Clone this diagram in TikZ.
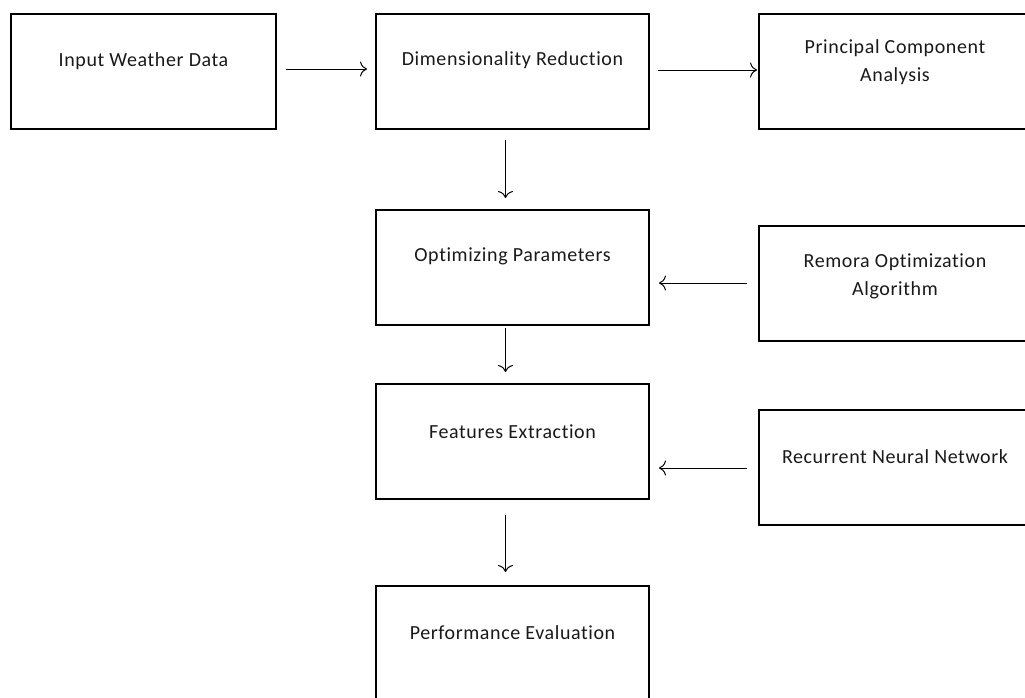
\documentclass[tikz,border=0pt]{standalone}
\usepackage{fontspec}
\setmainfont{Carlito}[Ligatures=NoCommon,LetterSpace=3]
\usetikzlibrary{arrows.meta}
\begin{document}
\begin{tikzpicture}[x=1pt,y=-1pt,
  box/.style={draw=black,line width=2pt,minimum width=#1,minimum height=115pt,inner sep=0pt,anchor=north west},
  box/.default=265pt,
  txt/.style={font=\fontsize{20}{28}\selectfont,text=black!90,align=center},
  arr/.style={line width=1pt,-{To[length=7pt,width=15pt]}}]
\useasboundingbox (0,0) rectangle (1025,697);
\clip (0,0) rectangle (1025,697);
\node[box=265pt] (in) at (10,13) {};
\node[box=273pt] (dr) at (375,13) {};
\node[box=272pt] (pca) at (758,13) {};
\node[box=273pt] (op) at (375,209) {};
\node[box=272pt] (ro) at (758,225) {};
\node[box=273pt] (fe) at (375,383) {};
\node[box=272pt] (rnn) at (758,409) {};
\node[box=273pt,minimum height=125pt] (pe) at (375,585) {};
\node[txt] (tin) at ([yshift=10]in.center) {Input Weather Data};
\node[txt] (tdr) at ([yshift=11]dr.center) {Dimensionality Reduction};
\node[txt] (tpca) at ([yshift=9]pca.center) {Principal Component\\Analysis};
\node[txt] (top) at ([yshift=11]op.center) {Optimizing Parameters};
\node[txt] (tro) at ([yshift=7]ro.center) {Remora Optimization\\Algorithm};
\node[txt] (tfe) at ([yshift=10]fe.center) {Features Extraction};
\node[txt] (trnn) at ([yshift=11]rnn.center) {Recurrent Neural Network};
\node[txt] (tpe) at ([yshift=16]pe.center) {Performance Evaluation};
\draw[arr,shorten <=9pt,shorten >=8pt] ([yshift=2.5]in.east) -- ([yshift=2.5]dr.west);
\draw[arr,shorten <=8pt,shorten >=1pt] ([yshift=1.5]dr.east) -- ([yshift=1.5]pca.west);
\draw[arr,shorten <=10pt,shorten >=11pt] ([xshift=-7]dr.south) -- ([xshift=-7]op.north);
\draw[arr,shorten <=11pt,shorten >=9pt] (ro.west |- 0,283) -- (op.east |- 0,283);
\draw[arr,shorten <=2pt,shorten >=11pt] ([xshift=-7]op.south) -- ([xshift=-7]fe.north);
\draw[arr,shorten <=11pt,shorten >=9pt] (rnn.west |- 0,468) -- (fe.east |- 0,468);
\draw[arr,shorten <=15pt,shorten >=13pt] ([xshift=-7]fe.south) -- ([xshift=-7]pe.north);
\end{tikzpicture}
\end{document}
